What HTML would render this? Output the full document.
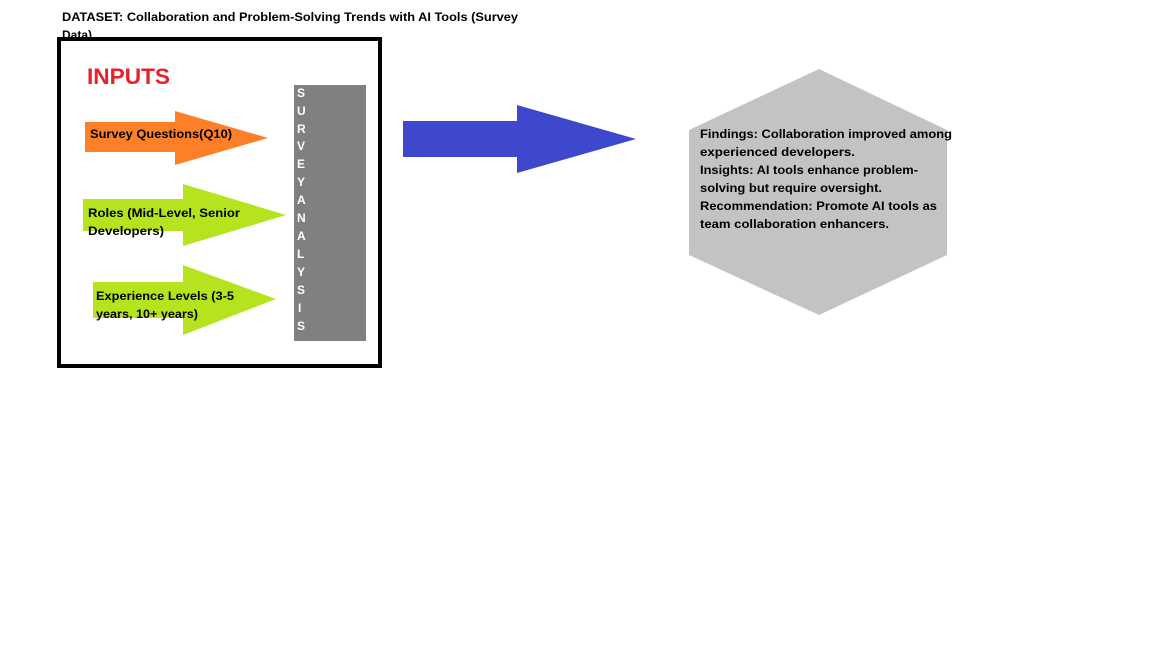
<!DOCTYPE html>
<html><head><meta charset="utf-8"><style>
html,body{margin:0;padding:0;background:#fff;width:1152px;height:648px;overflow:hidden}
svg{display:block}
text{font-family:"Liberation Sans",sans-serif;font-weight:bold;font-size:12px;fill:#000}
</style></head><body>
<svg width="1152" height="648" viewBox="0 0 1152 648" xmlns="http://www.w3.org/2000/svg">
<rect width="1152" height="648" fill="#fff"/>
<text x="62" y="21" textLength="456" lengthAdjust="spacingAndGlyphs">DATASET: Collaboration and Problem-Solving Trends with AI Tools (Survey</text>
<text x="62" y="39">Data)</text>
<rect x="59" y="39" width="321" height="327" fill="#fff" stroke="#000" stroke-width="4"/>
<text x="87" y="84" textLength="83" lengthAdjust="spacingAndGlyphs" style="font-size:22px;fill:#e8202a">INPUTS</text>
<polygon points="85,122 175,122 175,111 268,138 175,165 175,152 85,152" fill="#fd7f27"/>
<text x="90" y="138" textLength="142" lengthAdjust="spacingAndGlyphs">Survey Questions(Q10)</text>
<polygon points="83,199 183,199 183,184 286,215 183,246 183,231 83,231" fill="#b5e41e"/>
<text x="88" y="217" textLength="152" lengthAdjust="spacingAndGlyphs">Roles (Mid-Level, Senior</text>
<text x="88" y="235" textLength="76" lengthAdjust="spacingAndGlyphs">Developers)</text>
<polygon points="93,282 183,282 183,265 276,299 183,335 183,318 93,318" fill="#b5e41e"/>
<text x="96" y="300" textLength="138" lengthAdjust="spacingAndGlyphs">Experience Levels (3-5</text>
<text x="96" y="318" textLength="102" lengthAdjust="spacingAndGlyphs">years, 10+ years)</text>
<rect x="294" y="85" width="72" height="256" fill="#808080"/>
<g style="font-size:11px">
<text x="297" y="97" style="fill:#fff">S</text>
<text x="297" y="115" style="fill:#fff">U</text>
<text x="297" y="133" style="fill:#fff">R</text>
<text x="297" y="150" style="fill:#fff">V</text>
<text x="297" y="168" style="fill:#fff">E</text>
<text x="297" y="186" style="fill:#fff">Y</text>
<text x="297" y="204" style="fill:#fff">A</text>
<text x="297" y="222" style="fill:#fff">N</text>
<text x="297" y="240" style="fill:#fff">A</text>
<text x="297" y="258" style="fill:#fff">L</text>
<text x="297" y="276" style="fill:#fff">Y</text>
<text x="297" y="294" style="fill:#fff">S</text>
<text x="298" y="312" style="fill:#fff">I</text>
<text x="297" y="330" style="fill:#fff">S</text>
</g>
<polygon points="403,121 517,121 517,105 636,139 517,173 517,157 403,157" fill="#3f48cc"/>
<polygon points="819,69 947,130 947,255 819,315 689,255 689,130" fill="#c3c3c3"/>
<text x="700" y="138" textLength="252" lengthAdjust="spacingAndGlyphs">Findings: Collaboration improved among</text>
<text x="700" y="156" textLength="155" lengthAdjust="spacingAndGlyphs">experienced developers.</text>
<text x="700" y="174" textLength="218" lengthAdjust="spacingAndGlyphs">Insights: AI tools enhance problem-</text>
<text x="700" y="192" textLength="182" lengthAdjust="spacingAndGlyphs">solving but require oversight.</text>
<text x="700" y="210" textLength="237" lengthAdjust="spacingAndGlyphs">Recommendation: Promote AI tools as</text>
<text x="700" y="228" textLength="189" lengthAdjust="spacingAndGlyphs">team collaboration enhancers.</text>
</svg>
</body></html>
